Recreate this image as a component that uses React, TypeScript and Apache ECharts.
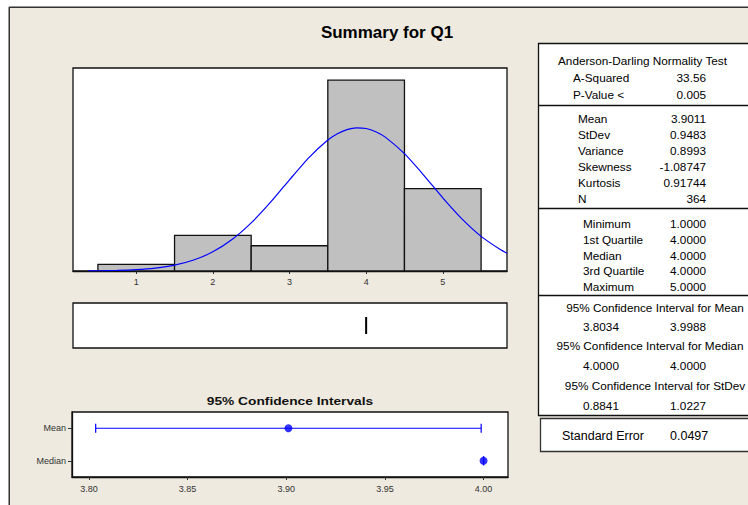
import React, { useEffect, useRef } from 'react';
import * as echarts from 'echarts';

// ---- data ----
const binCenters = [1, 2, 3, 4, 5];
const binCounts = [7, 38, 27, 204, 88];
const fitX = [0.375, 0.5, 0.75, 1.0, 1.25, 1.5, 1.75, 2.0, 2.25, 2.5, 2.75, 3.0, 3.25, 3.5, 3.625, 3.75, 3.875, 4.0, 4.125, 4.25, 4.5, 4.75, 5.0, 5.25, 5.5, 5.75, 5.84];
const fitY = [0.15, 0.25, 0.6, 1.4, 3.1, 6.2, 11.7, 20.5, 33.6, 51.4, 73.3, 97.5, 121, 140, 146.7, 151.2, 153.0, 152.3, 148.9, 143.1, 125.4, 102.6, 78.2, 55.7, 37.0, 22.9, 18.9];
const histTicks = [1, 2, 3, 4, 5];
const boxStats = [4, 4, 4, 4, 4];
const ciCategories = ['Median', 'Mean'];
const ciLower = [4.0, 3.8034];
const ciUpper = [4.0, 3.9988];
const ciEstimate = [4.0, 3.9011];
const ciTicks = [3.8, 3.85, 3.9, 3.95, 4.0];

const titleText = 'Summary for Q1';
const ciTitle = '95% Confidence Intervals';
const adHeader = 'Anderson-Darling Normality Test';
const adLabels = ['A-Squared', 'P-Value <'];
const adValues = ['33.56', '0.005'];
const descLabels = ['Mean', 'StDev', 'Variance', 'Skewness', 'Kurtosis', 'N'];
const descValues = ['3.9011', '0.9483', '0.8993', '-1.08747', '0.91744', '364'];
const quantLabels = ['Minimum', '1st Quartile', 'Median', '3rd Quartile', 'Maximum'];
const quantValues = ['1.0000', '4.0000', '4.0000', '4.0000', '5.0000'];
const ciTableTitles = ['95% Confidence Interval for Mean', '95% Confidence Interval for Median', '95% Confidence Interval for StDev'];
const ciTableLow = ['3.8034', '4.0000', '0.8841'];
const ciTableHigh = ['3.9988', '4.0000', '1.0227'];
const seLabel = 'Standard Error';
const seValue = '0.0497';

const FONT = '"Liberation Sans", Arial, sans-serif';
const BLUE = '#0000FF';

function txt(text: string, x: number, y: number, align: string, opts: any = {}) {
  return {
    type: 'text',
    x,
    y,
    scaleX: opts.scaleX ?? 1.07,
    silent: true,
    style: {
      text,
      fontSize: opts.fontSize ?? 11,
      fontWeight: opts.fontWeight ?? 'normal',
      fontFamily: FONT,
      fill: opts.fill ?? '#000',
      align,
      verticalAlign: 'middle',
    },
  };
}

export default function App() {
  const ref = useRef<HTMLDivElement>(null);
  useEffect(() => {
    if (!ref.current) return;
    const chart = echarts.init(ref.current, undefined, { renderer: 'svg' });

    const histData = binCenters.map((c, i) => [c - 0.5, c + 0.5, binCounts[i]]);
    const fitData = fitX.map((x, i) => [x, fitY[i]]);
    const ciBars = ciCategories.map((_, i) => [ciLower[i], ciUpper[i], i]);
    const ciPts = ciCategories.map((_, i) => [ciEstimate[i], i]);

    const graphics: any[] = [];
    // frame
    graphics.push({ type: 'rect', z: -10, silent: true, shape: { x: 10, y: 8, width: 740, height: 500 }, style: { fill: '#EEEAE0' } });
    graphics.push({ type: 'line', z: -9, silent: true, shape: { x1: 9.25, y1: 7, x2: 9.25, y2: 505 }, style: { stroke: '#333', lineWidth: 1.5 } });
    graphics.push({ type: 'line', z: -9, silent: true, shape: { x1: 9, y1: 7.25, x2: 748, y2: 7.25 }, style: { stroke: '#333', lineWidth: 1.5 } });
    // title
    graphics.push(txt(titleText, 387, 32, 'center', { fontSize: 17, fontWeight: 'bold', scaleX: 1 }));
    graphics.push(txt(ciTitle, 290, 401, 'center', { fontSize: 11, fontWeight: 'bold', scaleX: 1.25, fill: '#111' }));
    // table boxes
    graphics.push({ type: 'rect', silent: true, shape: { x: 538.5, y: 43.5, width: 230, height: 372 }, style: { fill: '#fff', stroke: '#111', lineWidth: 1.3 } });
    [105.5, 208.5, 295.5].forEach((y) => {
      graphics.push({ type: 'line', silent: true, shape: { x1: 538.5, y1: y, x2: 748, y2: y }, style: { stroke: '#111', lineWidth: 1.3 } });
    });
    graphics.push({ type: 'rect', silent: true, shape: { x: 540.5, y: 418.5, width: 230, height: 33 }, style: { fill: '#fff', stroke: '#333', lineWidth: 1.3 } });

    // table text
    graphics.push(txt(adHeader, 558, 61, 'left'));
    const adY = [78, 95];
    adLabels.forEach((l, i) => {
      graphics.push(txt(l, 573, adY[i], 'left'));
      graphics.push(txt(adValues[i], 706, adY[i], 'right'));
    });
    const descY = [119, 135, 151, 167, 183, 199];
    descLabels.forEach((l, i) => {
      graphics.push(txt(l, 578, descY[i], 'left'));
      graphics.push(txt(descValues[i], 706, descY[i], 'right'));
    });
    const quantY = [224, 240, 256, 271, 287];
    quantLabels.forEach((l, i) => {
      graphics.push(txt(l, 583, quantY[i], 'left'));
      graphics.push(txt(quantValues[i], 706, quantY[i], 'right'));
    });
    const ciTY = [308, 346, 386];
    const ciVY = [327, 366, 406];
    const ciCX = [655, 650, 655];
    ciTableTitles.forEach((t, i) => {
      graphics.push(txt(t, ciCX[i], ciTY[i], 'center'));
      graphics.push(txt(ciTableLow[i], 583, ciVY[i], 'left'));
      graphics.push(txt(ciTableHigh[i], 706, ciVY[i], 'right'));
    });
    graphics.push(txt(seLabel, 562, 436, 'left', { fontSize: 12.5, scaleX: 1 }));
    graphics.push(txt(seValue, 670, 436, 'left', { fontSize: 12.5, scaleX: 1 }));

    const axisLabelStyle = { fontSize: 9, color: '#333', fontFamily: FONT };

    chart.setOption({
      animation: false,
      backgroundColor: '#fff',
      grid: [
        { left: 73, top: 68, width: 434, height: 203, show: true, backgroundColor: '#fff', borderColor: '#111', borderWidth: 1.3 },
        { left: 73, top: 303, width: 434, height: 45, show: true, backgroundColor: '#fff', borderColor: '#111', borderWidth: 1.3 },
        { left: 72, top: 412, width: 436, height: 65, show: true, backgroundColor: '#fff', borderColor: '#111', borderWidth: 1.3 },
      ],
      xAxis: [
        {
          gridIndex: 0, type: 'value', min: 0.175, max: 5.838,
          axisLine: { show: true, lineStyle: { color: '#111', width: 1.3 } },
          axisTick: { show: true, customValues: histTicks, length: 3, lineStyle: { color: '#333' } },
          axisLabel: { show: true, customValues: histTicks, margin: 6, ...axisLabelStyle },
          splitLine: { show: false },
        },
        {
          gridIndex: 1, type: 'value', min: 0.175, max: 5.838, show: false,
        },
        {
          gridIndex: 2, type: 'value', min: 3.7914, max: 4.0124,
          axisLine: { show: true, lineStyle: { color: '#111', width: 1.3 } },
          axisTick: { show: true, customValues: ciTicks, length: 3, lineStyle: { color: '#333' } },
          axisLabel: { show: true, customValues: ciTicks, margin: 7, formatter: (v: number) => v.toFixed(2), ...axisLabelStyle },
          splitLine: { show: false },
        },
      ],
      yAxis: [
        { gridIndex: 0, type: 'value', min: 0, max: 217, show: false },
        { gridIndex: 1, type: 'category', data: ['box'], show: false },
        {
          gridIndex: 2, type: 'category', data: ciCategories,
          axisLine: { show: true, lineStyle: { color: '#111', width: 1.3 } },
          axisTick: { show: true, alignWithLabel: true, length: 4, lineStyle: { color: '#333' } },
          axisLabel: { margin: 6, ...axisLabelStyle },
          splitLine: { show: false },
        },
      ],
      series: [
        {
          type: 'custom', xAxisIndex: 0, yAxisIndex: 0,
          data: histData,
          renderItem: (params: any, api: any) => {
            const p0 = api.coord([api.value(0), api.value(2)]);
            const p1 = api.coord([api.value(1), 0]);
            return {
              type: 'rect',
              shape: { x: p0[0], y: p0[1], width: p1[0] - p0[0], height: p1[1] - p0[1] },
              style: { fill: '#C0C0C0', stroke: '#111', lineWidth: 1.3 },
            };
          },
          z: 2,
        },
        {
          type: 'line', xAxisIndex: 0, yAxisIndex: 0, data: fitData, smooth: 0.2,
          showSymbol: false, symbol: 'none', lineStyle: { color: BLUE, width: 1.2 }, z: 3, clip: true,
        },
        {
          type: 'boxplot', xAxisIndex: 1, yAxisIndex: 1, data: [boxStats], boxWidth: [17, 17],
          itemStyle: { color: '#fff', borderColor: '#000', borderWidth: 2 },
        },
        {
          type: 'custom', xAxisIndex: 2, yAxisIndex: 2, data: ciBars,
          renderItem: (params: any, api: any) => {
            const a = api.coord([api.value(0), api.value(2)]);
            const b = api.coord([api.value(1), api.value(2)]);
            const h = 4.5;
            const st = { stroke: BLUE, lineWidth: 1.2 };
            return {
              type: 'group',
              children: [
                { type: 'line', shape: { x1: a[0], y1: a[1], x2: b[0], y2: b[1] }, style: st },
                { type: 'line', shape: { x1: a[0], y1: a[1] - h, x2: a[0], y2: a[1] + h }, style: st },
                { type: 'line', shape: { x1: b[0], y1: b[1] - h, x2: b[0], y2: b[1] + h }, style: st },
              ],
            };
          },
          z: 2,
        },
        {
          type: 'scatter', xAxisIndex: 2, yAxisIndex: 2, data: ciPts, symbol: 'circle', symbolSize: 8,
          itemStyle: { color: BLUE }, z: 3,
        },
      ],
      graphic: graphics,
    });
    return () => chart.dispose();
  }, []);
  return <div ref={ref} style={{ position: 'fixed', left: 0, top: 0, width: 748, height: 505 }} />;
}
